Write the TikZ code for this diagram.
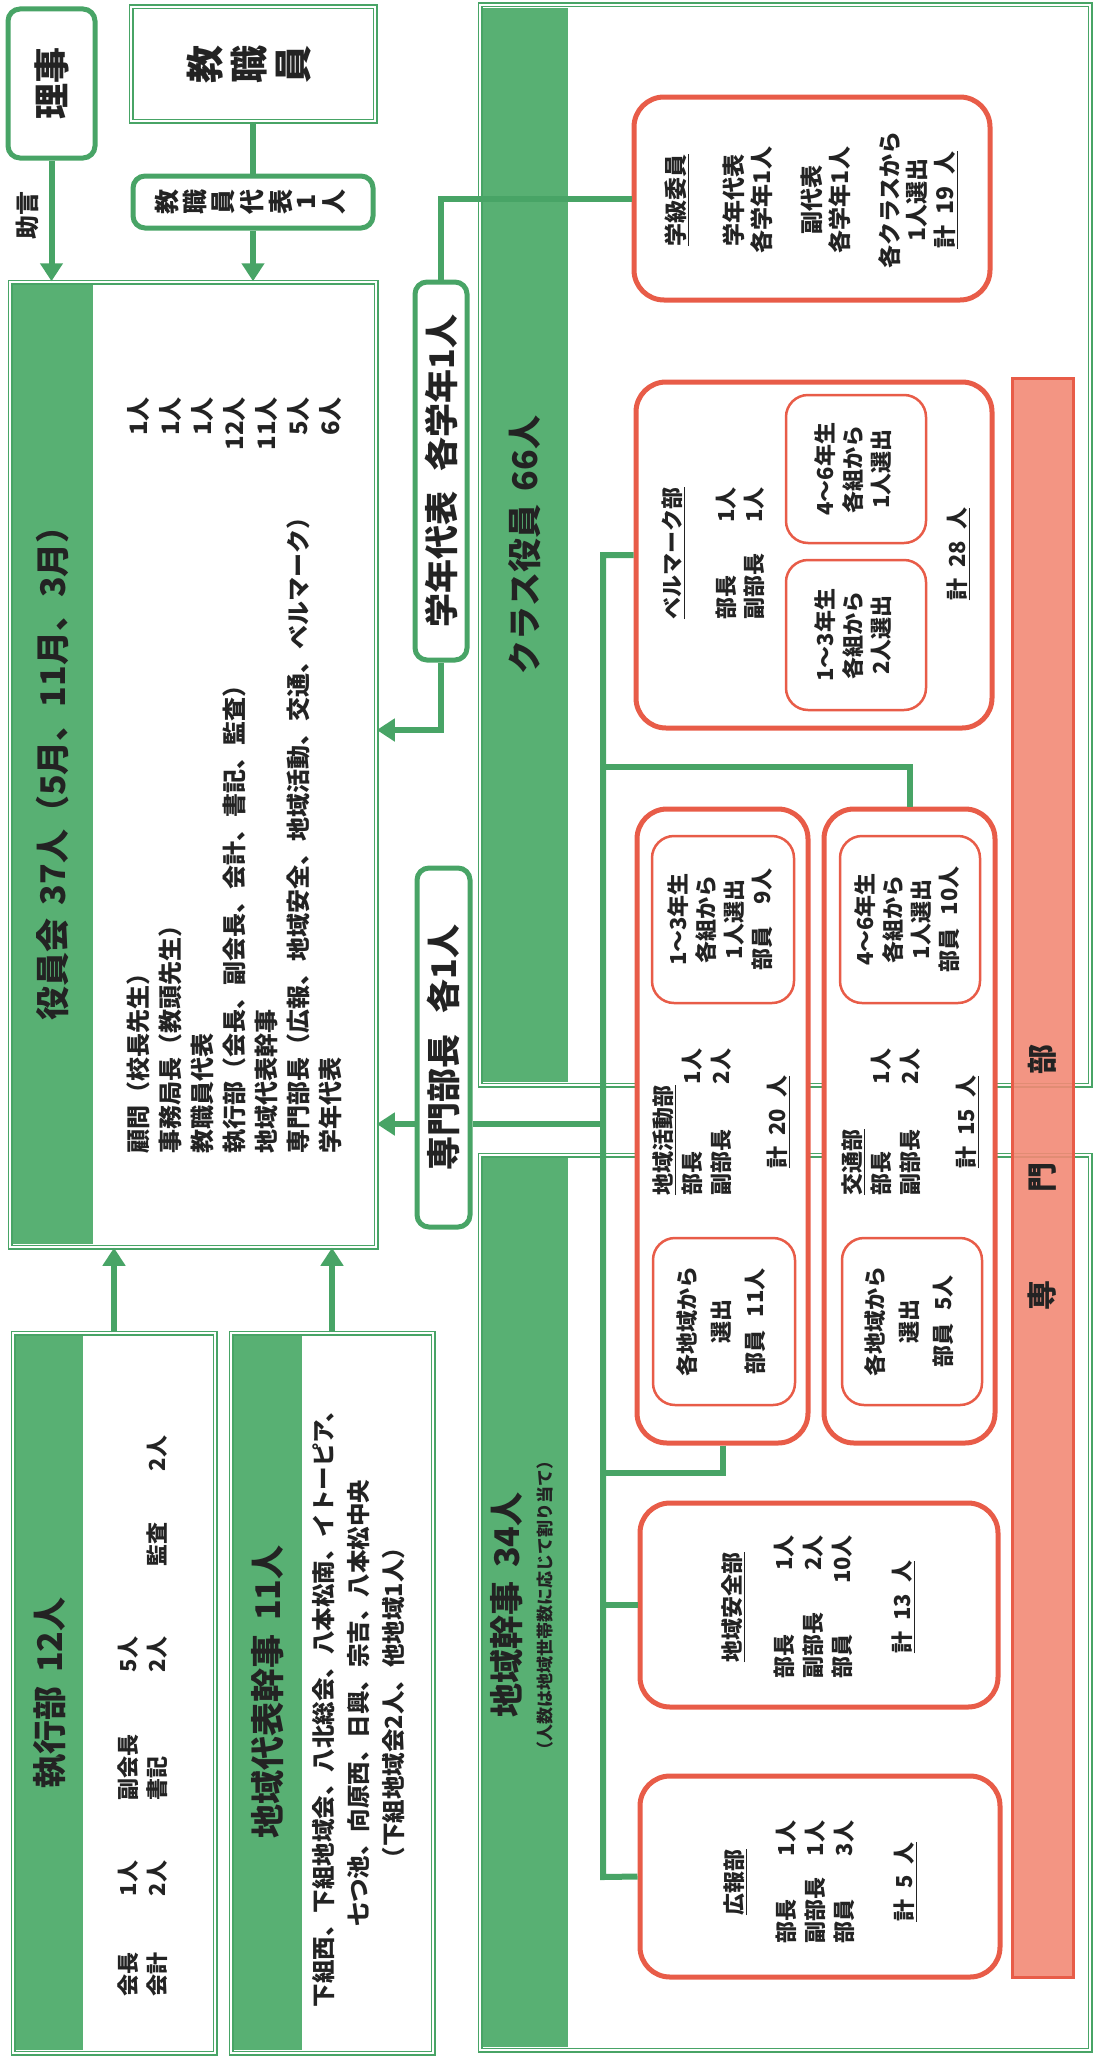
\documentclass[tikz,border=0pt]{standalone}
\usepackage{fontspec}
\setmainfont{Noto Sans CJK JP}
\usepackage{graphicx}
\usetikzlibrary{arrows.meta}

\definecolor{pgreen}{RGB}{72,164,102}
\definecolor{pstrip}{RGB}{88,176,115}
\definecolor{pred}{RGB}{232,92,72}
\definecolor{pband}{RGB}{242,138,118}
\definecolor{ink}{RGB}{35,35,35}

% rotated text, and vertical text written as a column then turned
\newcommand{\rtxt}[1]{\rotatebox{90}{#1}}
\newcommand{\tatecol}[1]{\rotatebox{90}{\begin{tabular}{@{}c@{}}#1\end{tabular}}}
\newcommand{\kei}[1]{\underline{計\hspace{.5em}#1\hspace{.5em}人}}

\tikzset{
  gbox/.style={draw=pgreen, line width=5pt, rounded corners=12pt, fill=white, inner sep=0pt, text=ink},
  dbox/.style={draw=pgreen, double=white, double distance=2pt, line width=1.5pt, inner sep=0pt},
  rbox/.style={draw=pred, line width=5pt, rounded corners=30pt, fill=white, inner sep=0pt},
  rsub/.style={draw=pred, line width=2.5pt, rounded corners=22pt, fill=white, inner sep=0pt, text=ink,
    font=\fontsize{22}{28}\selectfont\bfseries},
  conn/.style={draw=pgreen, line width=6pt},
  arr/.style={conn, -{Triangle[width=22pt,length=18pt]}},
  head/.style={text=ink, font=\fontsize{34}{40}\selectfont\bfseries, inner sep=0pt},
  body/.style={text=ink, font=\fontsize{22}{29}\selectfont\bfseries, inner sep=0pt},
}

\begin{document}
\begin{tikzpicture}[x=1pt, y=-1pt]
\useasboundingbox (0,0) rectangle (1097,2058);

% big frames with green strips
\node[dbox, minimum width=366pt, minimum height=965pt] (yakuin) at (193,764.5) {};
\fill[pstrip] (13,285) rectangle (93,1244);
\node[head] (yakuinhead) at (53,765) {\rtxt{役員会\hspace{.4em}37人（5月、11月、3月）}};
\node[body, font=\fontsize{24}{32}\selectfont\bfseries] (yakuinlist) at (237,775) {\rtxt{%
  \begin{tabular*}{756pt}{@{}l@{\extracolsep{\fill}}r@{}}
  顧問（校長先生） & 1人\\
  事務局長（教頭先生） & 1人\\
  教職員代表 & 1人\\
  執行部（会長、副会長、会計、書記、監査） & 12人\\
  地域代表幹事 & 11人\\
  専門部長（広報、地域安全、地域活動、交通、ベルマーク） & 5人\\
  学年代表 & 6人
  \end{tabular*}}};

\node[dbox, minimum width=202pt, minimum height=720pt] (shikko) at (114,1693) {};
\fill[pstrip] (16,1336) rectangle (83,2050);
\node[head] (shikkohead) at (50,1693) {\rtxt{執行部\hspace{.4em}12人}};
\node[body] (shikkobody) at (145,1716) {\rtxt{%
  \begin{tabular}{@{}p{100pt}@{}p{96pt}@{}p{128pt}@{}p{106pt}@{}p{95pt}@{}l@{}}
  会長 & 1人 & 副会長 & 5人 & & \\
  会計 & 2人 & 書記 & 2人 & 監査 & 2人
  \end{tabular}}};

\node[dbox, minimum width=202pt, minimum height=720pt] (chiikidaihyo) at (332,1693) {};
\fill[pstrip] (234,1336) rectangle (302,2050);
\node[head] (daihyohead) at (268,1692) {\rtxt{地域代表幹事\hspace{.4em}11人}};
\node[body, font=\fontsize{23.5}{35}\selectfont\bfseries] (daihyobody) at (360,1703) {\rtxt{%
  \begin{tabular}{@{}c@{}}
  下組西、下組地域会、八北総会、八本松南、イトーピア、\\
  七つ池、向原西、日興、宗吉、八本松中央\\
  （下組地域会2人、他地域1人）
  \end{tabular}}};

\node[dbox, minimum width=610pt, minimum height=1080pt] (classyakuin) at (785,545) {};
\fill[pstrip] (483,8) rectangle (568,1082);
\node[head] (classhead) at (525,545) {\rtxt{クラス役員\hspace{.4em}66人}};

\node[dbox, minimum width=610pt, minimum height=895pt] (chiikikanji) at (785,1602.5) {};
\fill[pstrip] (483,1158) rectangle (568,2047);
\node[head] (kanjihead) at (527,1605) {\rtxt{%
  \begin{tabular}{@{}c@{}}
  地域幹事\hspace{.4em}34人\\[-8pt]
  {\fontsize{17}{20}\selectfont（人数は地域世帯数に応じて割り当て）}
  \end{tabular}}};

% senmonbu band
\node[draw=pred, line width=3pt, fill=pband, fill opacity=0.9, text opacity=1, text=ink,
  minimum width=61pt, minimum height=1599pt, inner sep=0pt,
  font=\fontsize{30}{34}\selectfont\bfseries] (senmonbu) at (1042.5,1177.5)
  {\rtxt{専\hspace{88pt}門\hspace{88pt}部}};

% small green boxes
\node[gbox, minimum width=87pt, minimum height=149pt, font=\fontsize{36}{40}\selectfont\bfseries] (riji) at (51.5,83.5) {\rtxt{理事}};
\node[dbox, minimum width=244pt, minimum height=114pt, text=ink, font=\fontsize{38}{40}\selectfont\bfseries] (kyoshoku) at (253,64) {\tatecol{教\\職\\員}};
\node[gbox, minimum width=240pt, minimum height=52pt, font=\fontsize{25}{24.5}\selectfont\bfseries] (kyodaihyo) at (253,202) {\tatecol{教\\職\\員\\代\\表\\1\\人}};
\node[text=ink, inner sep=0pt, font=\fontsize{24}{26}\selectfont\bfseries] (jogen) at (27,215) {\rtxt{助言}};
\node[gbox, minimum width=52pt, minimum height=378pt, font=\fontsize{34}{38}\selectfont\bfseries] (gakunen) at (441,471) {\rtxt{学年代表\hspace{.6em}各学年1人}};
\node[gbox, minimum width=53pt, minimum height=359pt, font=\fontsize{34}{38}\selectfont\bfseries] (bucho) at (443.5,1047.5) {\rtxt{専門部長\hspace{.6em}各1人}};

% class officers
\node[rbox, minimum width=356pt, minimum height=203pt] (gakkyu) at (812,198.5) {};
\node[body, font=\fontsize{23}{27}\selectfont\bfseries] (gakkyutext) at (813,200) {\rtxt{%
  \begin{tabular}{@{}c@{}}
  \underline{学級委員}\\[30pt]
  学年代表\\ 各学年1人\\[22pt]
  副代表\\ 各学年1人\\[22pt]
  各クラスから\\ 1人選出\\ \kei{19}
  \end{tabular}}};

\node[rbox, minimum width=356pt, minimum height=346pt] (bell) at (814,555) {};
\node[body, font=\fontsize{22}{28}\selectfont\bfseries] (belltext) at (716,553) {\rtxt{%
  \begin{tabular}{@{}l@{\hspace{28pt}}r@{}}
  \multicolumn{2}{@{}c@{}}{\underline{ベルマーク部}}\\[26pt]
  部長 & 1人\\
  副部長 & 1人
  \end{tabular}}};
\node[rsub, minimum width=140pt, minimum height=148pt] (bellupper) at (856,469) {\rtxt{%
  \begin{tabular}{@{}c@{}}4～6年生\\各組から\\1人選出\end{tabular}}};
\node[rsub, minimum width=140pt, minimum height=150pt] (belllower) at (856,635) {\rtxt{%
  \begin{tabular}{@{}c@{}}1～3年生\\各組から\\2人選出\end{tabular}}};
\node[body] (belltotal) at (958,554) {\rtxt{\kei{28}}};

% area officers
\node[rbox, minimum width=171pt, minimum height=634pt] (katsudo) at (722.5,1126) {};
\node[body] (katsudotext) at (723,1122) {\rtxt{%
  \begin{tabular}{@{}l@{\hspace{45pt}}r@{}}
  \multicolumn{2}{@{}l@{}}{\underline{地域活動部}}\\
  部長 & 1人\\
  副部長 & 2人\\[27pt]
  \multicolumn{2}{@{}c@{}}{\kei{20}}
  \end{tabular}}};
\node[rsub, minimum width=142pt, minimum height=167pt] (katsudoupper) at (723,919.5) {\rtxt{%
  \begin{tabular}{@{}c@{}}1～3年生\\各組から\\1人選出\\部員\hspace{1em}9人\end{tabular}}};
\node[rsub, minimum width=142pt, minimum height=167pt] (katsudolower) at (724,1321.5) {\rtxt{%
  \begin{tabular}{@{}c@{}}各地域から\\[6pt]選出\\[6pt]部員\hspace{.6em}11人\end{tabular}}};

\node[rbox, minimum width=171pt, minimum height=634pt] (kotsu) at (909.5,1126) {};
\node[body] (kotsutext) at (912,1122) {\rtxt{%
  \begin{tabular}{@{}l@{\hspace{45pt}}r@{}}
  \multicolumn{2}{@{}l@{}}{\underline{交通部}}\\
  部長 & 1人\\
  副部長 & 2人\\[27pt]
  \multicolumn{2}{@{}c@{}}{\kei{15}}
  \end{tabular}}};
\node[rsub, minimum width=140pt, minimum height=167pt] (kotsuupper) at (910,919.5) {\rtxt{%
  \begin{tabular}{@{}c@{}}4～6年生\\各組から\\1人選出\\部員\hspace{.6em}10人\end{tabular}}};
\node[rsub, minimum width=140pt, minimum height=167pt] (kotsulower) at (912,1321.5) {\rtxt{%
  \begin{tabular}{@{}c@{}}各地域から\\[6pt]選出\\[6pt]部員\hspace{.6em}5人\end{tabular}}};

\node[rbox, minimum width=358pt, minimum height=204pt] (anzen) at (819,1605) {};
\node[body] (anzentext) at (820,1607) {\rtxt{%
  \begin{tabular}{@{}l@{\hspace{29pt}}r@{}}
  \multicolumn{2}{@{}c@{}}{\underline{地域安全部}}\\[23pt]
  部長 & 1人\\
  副部長 & 2人\\
  部員 & 10人\\[31pt]
  \multicolumn{2}{@{}c@{}}{\kei{13}}
  \end{tabular}}};

\node[rbox, minimum width=360pt, minimum height=201pt] (koho) at (820,1876.5) {};
\node[body] (kohotext) at (822,1882) {\rtxt{%
  \begin{tabular}{@{}l@{\hspace{21pt}}r@{}}
  \multicolumn{2}{@{}c@{}}{\underline{広報部}}\\[23pt]
  部長 & 1人\\
  副部長 & 1人\\
  部員 & 3人\\[31pt]
  \multicolumn{2}{@{}c@{}}{\kei{5}}
  \end{tabular}}};

% connectors
\coordinate (trunktop) at (603,555);
\coordinate (trunkbot) at (603,1877);
\coordinate (jb) at (603,1124);
\draw[conn] (bell.west) -- (trunktop) -- (trunkbot) -- (koho.west);
\draw[conn] (anzen.west) -- (anzen.west -| trunktop);
\draw[conn] (trunktop |- 0,767) -| (kotsu.north);
\draw[conn] (katsudo.south) |- (trunktop |- 0,1473);
\draw[conn] (jb) -- (jb -| bucho.east);
\draw[arr] (jb -| bucho.west) -- (jb -| yakuin.east);
\draw[conn] (gakkyu.west) -| (gakunen.north);
\draw[arr] (gakunen.south) |- (yakuin.east |- 0,730);
\draw[arr] (riji.south) -- (riji.south |- yakuin.north);
\draw[conn] (kyoshoku.south) -- (kyodaihyo.north);
\draw[arr] (kyodaihyo.south) -- (kyodaihyo.south |- yakuin.north);
\draw[arr] (shikko.north) -- (shikko.north |- yakuin.south);
\draw[arr] (chiikidaihyo.north) -- (chiikidaihyo.north |- yakuin.south);

\end{tikzpicture}
\end{document}
